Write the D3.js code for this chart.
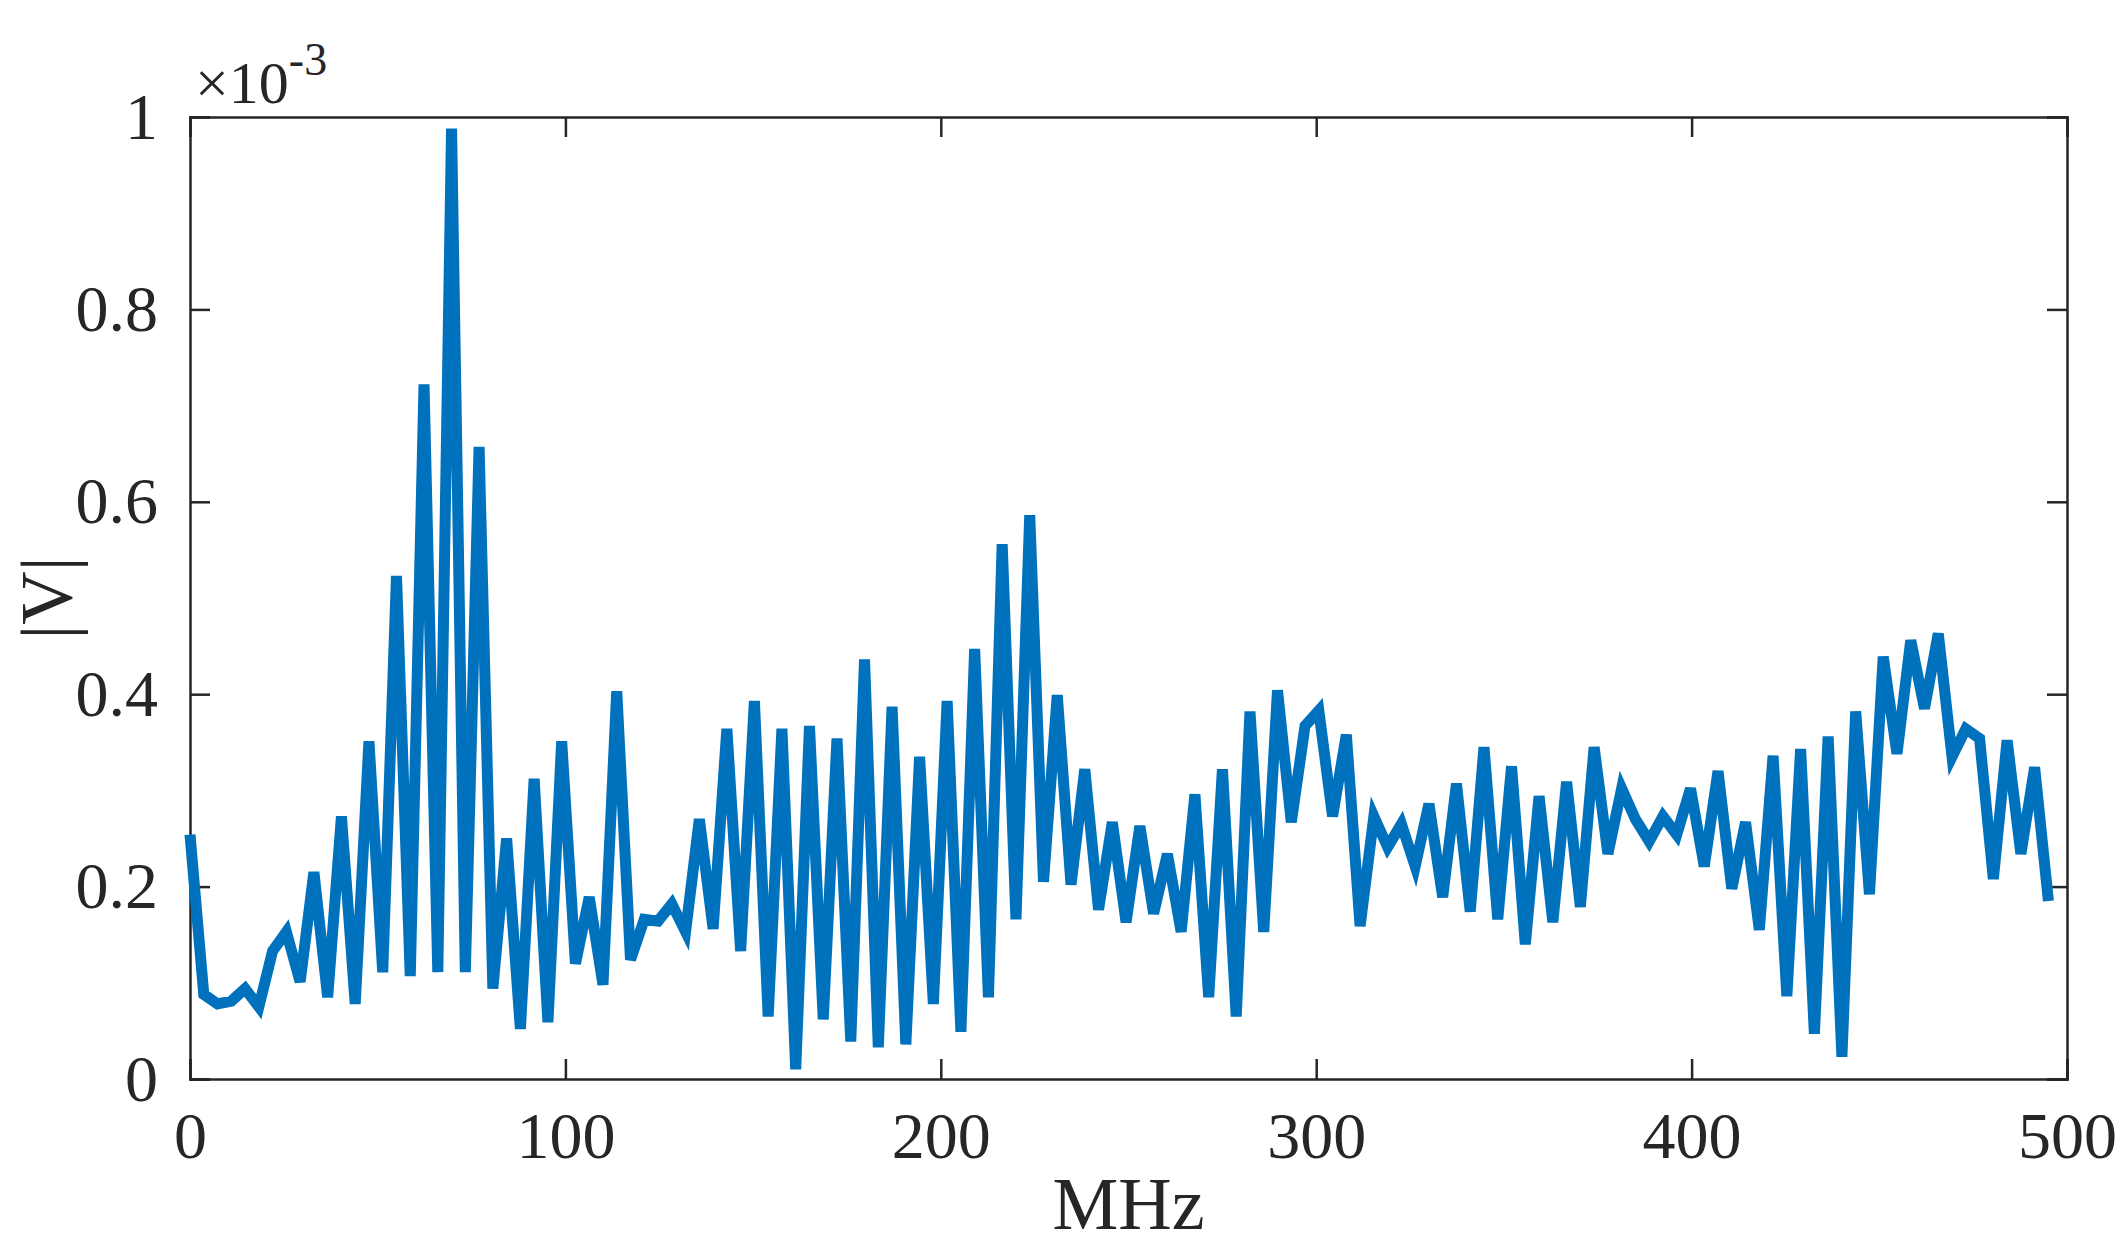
<!DOCTYPE html>
<html>
<head>
<meta charset="utf-8">
<script src="https://cdn.jsdelivr.net/npm/d3@7"></script>
<style>
  body { margin: 0; background: #fff; }
  text { font-family: "Liberation Serif", "DejaVu Serif", serif; fill: #262626; }
</style>
</head>
<body>
<div id="chart"></div>
<script>
// frequency step between samples (MHz)
const freqStep = 3.667;
// |V| in units of 1e-3
const magnitude = [
  0.254, 0.088, 0.078, 0.081, 0.094, 0.075, 0.133, 0.153, 0.101, 0.215,
  0.085, 0.273, 0.078, 0.351, 0.111, 0.523, 0.107, 0.722, 0.111, 0.988,
  0.111, 0.657, 0.094, 0.250, 0.052, 0.312, 0.059, 0.351, 0.120, 0.189,
  0.098, 0.403, 0.124, 0.166, 0.164, 0.182, 0.153, 0.270, 0.156, 0.364,
  0.133, 0.393, 0.065, 0.364, 0.010, 0.367, 0.062, 0.354, 0.039, 0.436,
  0.033, 0.387, 0.036, 0.335, 0.078, 0.393, 0.049, 0.447, 0.085, 0.556,
  0.166, 0.586, 0.205, 0.399, 0.202, 0.322, 0.176, 0.267, 0.163, 0.263,
  0.172, 0.234, 0.153, 0.296, 0.085, 0.322, 0.065, 0.382, 0.153, 0.404,
  0.267, 0.367, 0.383, 0.273, 0.358, 0.159, 0.273, 0.241, 0.265, 0.221,
  0.286, 0.189, 0.307, 0.174, 0.345, 0.166, 0.325, 0.140, 0.294, 0.163,
  0.309, 0.179, 0.345, 0.234, 0.302, 0.270, 0.247, 0.273, 0.254, 0.302,
  0.221, 0.320, 0.198, 0.267, 0.155, 0.336, 0.086, 0.343, 0.047, 0.356,
  0.023, 0.382, 0.192, 0.439, 0.338, 0.456, 0.385, 0.463, 0.335, 0.364,
  0.354, 0.208, 0.352, 0.234, 0.324, 0.185
];
const xTicks = [0, 100, 200, 300, 400, 500];
const yTicks = [0, 0.2, 0.4, 0.6, 0.8, 1];

const W = 2128, H = 1251;
const margin = { top: 117, right: 61, bottom: 172, left: 190 },
    width = W - margin.left - margin.right,
    height = H - margin.top - margin.bottom;

const svg = d3.select("#chart").append("svg")
    .attr("width", W).attr("height", H)
    .append("g")
    .attr("transform", `translate(${margin.left},${margin.top})`);

const x = d3.scaleLinear().domain([0, 500]).range([0, width]);
const y = d3.scaleLinear().domain([0, 1]).range([height, 0]);

const tickLen = 20;
const fmt = d => d === 0 || d === 1 ? String(d) : d3.format(".1f")(d);

// bottom / top axes
svg.append("g").attr("transform", `translate(0,${height})`)
    .call(d3.axisBottom(x).tickValues(xTicks).tickSize(-tickLen).tickPadding(tickLen + 12).tickFormat(d3.format("d")));
svg.append("g")
    .call(d3.axisTop(x).tickValues(xTicks).tickSize(-tickLen).tickFormat(""));
// left / right axes
svg.append("g")
    .call(d3.axisLeft(y).tickValues(yTicks).tickSize(-tickLen).tickPadding(tickLen + 12).tickFormat(fmt));
svg.append("g").attr("transform", `translate(${width},0)`)
    .call(d3.axisRight(y).tickValues(yTicks).tickSize(-tickLen).tickFormat(""));

svg.selectAll(".domain").attr("stroke", "#262626").attr("stroke-width", 2.5);
svg.selectAll(".tick line").attr("stroke", "#262626").attr("stroke-width", 2.5);
svg.selectAll(".tick text").style("font-size", "66px").attr("fill", "#262626");

// the line
svg.append("path")
    .datum(magnitude)
    .attr("fill", "none")
    .attr("stroke", "#0072BD")
    .attr("stroke-width", 11)
    .attr("stroke-linejoin", "miter")
    .attr("d", d3.line()
        .x((d, i) => x(i * freqStep))
        .y(d => y(d)));

// labels
svg.append("text")
    .attr("x", width / 2).attr("y", height + 150)
    .attr("text-anchor", "middle")
    .style("font-size", "74px")
    .text("MHz");

svg.append("text")
    .attr("transform", `translate(${-margin.left + 72},${height / 2}) rotate(-90)`)
    .attr("text-anchor", "middle")
    .style("font-size", "74px")
    .text("|V|");

const exp = svg.append("text")
    .attr("x", 5).attr("y", -14)
    .style("font-size", "60px");
exp.append("tspan").text("\u00d710");
exp.append("tspan").attr("dy", -28).style("font-size", "46px").text("-3");
</script>
</body>
</html>
